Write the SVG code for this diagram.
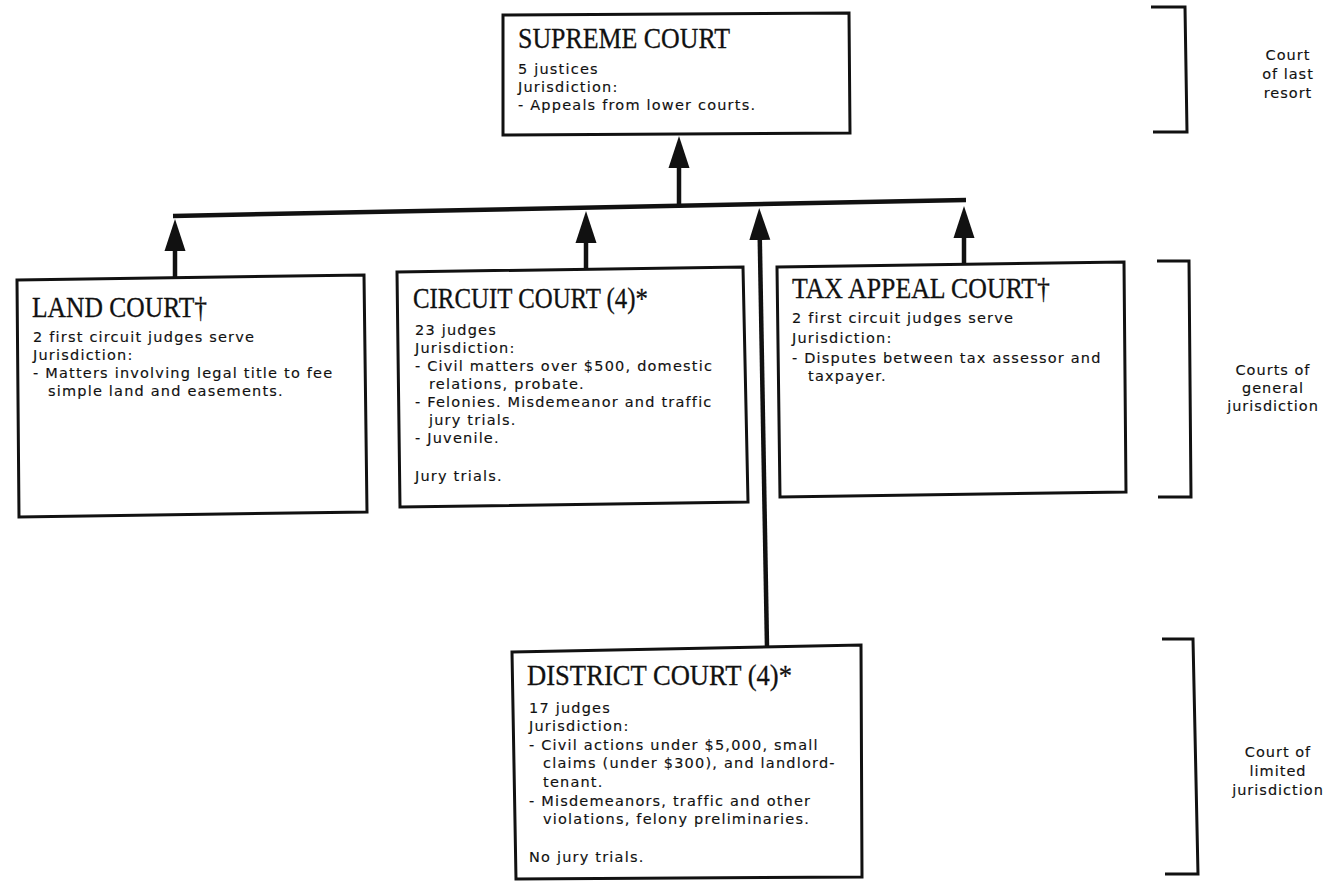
<svg xmlns="http://www.w3.org/2000/svg" width="1328" height="881" viewBox="0 0 1328 881">
<style>
.box{fill:#fff;stroke:#111;stroke-width:3;stroke-linejoin:miter}
.t{font-family:"Liberation Serif","Times New Roman",serif;font-size:30px;fill:#111;stroke:#111;stroke-width:0.3}
.b{font-family:"DejaVu Sans","Noto Sans",sans-serif;font-size:14.5px;letter-spacing:1.2px;fill:#111;stroke:#111;stroke-width:0.15}
.lbl{font-family:"DejaVu Sans","Noto Sans",sans-serif;font-size:14.5px;letter-spacing:1px;fill:#111;stroke:#111;stroke-width:0.15;text-anchor:middle}
.ln{fill:none;stroke:#111;stroke-width:4.5;stroke-linecap:butt}
.br{fill:none;stroke:#111;stroke-width:3;stroke-linejoin:miter}
</style>
<defs>
<marker id="ah" markerUnits="userSpaceOnUse" viewBox="0 -11 33 22" refX="0" refY="0" markerWidth="33" markerHeight="22" orient="auto">
<path d="M0,-10.5 L32,0 L0,10.5 Z" fill="#111"/>
</marker>
</defs>
<rect width="1328" height="881" fill="#fff"/>

<g id="connectors">
<line class="ln" x1="173" y1="216" x2="966" y2="200"/>
<line class="ln" x1="679" y1="207" x2="679" y2="168" marker-end="url(#ah)"/>
<line class="ln" x1="175" y1="278" x2="175" y2="251" marker-end="url(#ah)"/>
<line class="ln" x1="586" y1="269" x2="586" y2="243" marker-end="url(#ah)"/>
<line class="ln" x1="964" y1="263" x2="964" y2="238" marker-end="url(#ah)"/>
<line class="ln" x1="767" y1="647" x2="759.8" y2="240" marker-end="url(#ah)"/>
</g>

<g id="supreme-court">
<polygon class="box" points="503,15 849,13 850,133 503,135"/>
<text class="t" x="518" y="48" textLength="212" lengthAdjust="spacingAndGlyphs">SUPREME COURT</text>
<text class="b" x="518" y="74">5 justices</text>
<text class="b" x="518" y="92">Jurisdiction:</text>
<text class="b" x="518" y="110">- Appeals from lower courts.</text>
</g>

<g id="land-court">
<polygon class="box" points="17,280 364,275 367,512 19,517"/>
<text class="t" x="32" y="317" textLength="175" lengthAdjust="spacingAndGlyphs">LAND COURT†</text>
<text class="b" x="33" y="342">2 first circuit judges serve</text>
<text class="b" x="33" y="360">Jurisdiction:</text>
<text class="b" x="33" y="378">- Matters involving legal title to fee</text>
<text class="b" x="48" y="396">simple land and easements.</text>
</g>

<g id="circuit-court">
<polygon class="box" points="397,272 743,267 748,502 400,507"/>
<text class="t" x="413" y="308" textLength="235" lengthAdjust="spacingAndGlyphs">CIRCUIT COURT (4)*</text>
<text class="b" x="415" y="335">23 judges</text>
<text class="b" x="415" y="353">Jurisdiction:</text>
<text class="b" x="415" y="371">- Civil matters over $500, domestic</text>
<text class="b" x="429" y="389">relations, probate.</text>
<text class="b" x="415" y="407">- Felonies. Misdemeanor and traffic</text>
<text class="b" x="429" y="425">jury trials.</text>
<text class="b" x="415" y="443">- Juvenile.</text>
<text class="b" x="415" y="481">Jury trials.</text>
</g>

<g id="tax-appeal-court">
<polygon class="box" points="777,267 1124,262 1126,492 780,497"/>
<text class="t" x="792" y="298" textLength="258" lengthAdjust="spacingAndGlyphs">TAX APPEAL COURT†</text>
<text class="b" x="792" y="323">2 first circuit judges serve</text>
<text class="b" x="792" y="343">Jurisdiction:</text>
<text class="b" x="792" y="363">- Disputes between tax assessor and</text>
<text class="b" x="808" y="381">taxpayer.</text>
</g>

<g id="district-court">
<polygon class="box" points="512,652 861,645 862,877 516,879"/>
<text class="t" x="527" y="685" textLength="265" lengthAdjust="spacingAndGlyphs">DISTRICT COURT (4)*</text>
<text class="b" x="529" y="713">17 judges</text>
<text class="b" x="529" y="731">Jurisdiction:</text>
<text class="b" x="529" y="750">- Civil actions under $5,000, small</text>
<text class="b" x="543" y="768">claims (under $300), and landlord-</text>
<text class="b" x="543" y="787">tenant.</text>
<text class="b" x="529" y="806">- Misdemeanors, traffic and other</text>
<text class="b" x="543" y="824">violations, felony preliminaries.</text>
<text class="b" x="529" y="862">No jury trials.</text>
</g>

<g id="bracket-last-resort">
<polyline class="br" points="1151,7 1185,7 1187,132 1153,132"/>
<text class="lbl" x="1288" y="60">Court</text>
<text class="lbl" x="1288" y="79">of last</text>
<text class="lbl" x="1288" y="98">resort</text>
</g>

<g id="bracket-general">
<polyline class="br" points="1157,261 1189,261 1191,497 1158,497"/>
<text class="lbl" x="1273" y="375">Courts of</text>
<text class="lbl" x="1273" y="393">general</text>
<text class="lbl" x="1273" y="411">jurisdiction</text>
</g>

<g id="bracket-limited">
<polyline class="br" points="1162,639 1193,639 1198,874 1165,874"/>
<text class="lbl" x="1278" y="757">Court of</text>
<text class="lbl" x="1278" y="776">limited</text>
<text class="lbl" x="1278" y="795">jurisdiction</text>
</g>
</svg>
